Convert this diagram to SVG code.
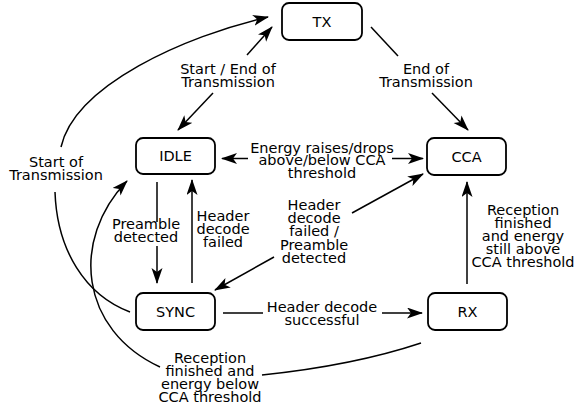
<svg xmlns="http://www.w3.org/2000/svg" width="574" height="411" viewBox="0 0 574 411">
<style>
  .node rect { fill: #ffffff; stroke: #000000; stroke-width: 1.8; }
  .node text { font-family: "DejaVu Sans", sans-serif; font-size: 14.5px; text-anchor: middle; fill: #000000; }
  .conn path, .conn line { fill: none; stroke: #000000; stroke-width: 1.5; }
  .lbl { font-family: "DejaVu Sans", sans-serif; font-size: 14.5px; text-anchor: middle; fill: #000000; }
</style>
<defs>
  <marker id="arr" markerUnits="userSpaceOnUse" markerWidth="17" markerHeight="12" refX="15" refY="5.5" orient="auto">
    <path d="M0,0 L16,5.5 L0,11 L4,5.5 z" fill="#000000"/>
  </marker>
</defs>
<rect width="574" height="411" fill="#ffffff"/>

<g id="connectors" class="conn">
  <!-- TX <-> IDLE -->
  <line x1="247" y1="55" x2="272" y2="27" marker-end="url(#arr)"/>
  <line x1="213" y1="93" x2="178" y2="130" marker-end="url(#arr)"/>
  <!-- TX -> CCA -->
  <line x1="371" y1="27" x2="398" y2="56"/>
  <line x1="432" y1="93" x2="468" y2="130" marker-end="url(#arr)"/>
  <!-- IDLE <-> CCA -->
  <line x1="248" y1="158.5" x2="222" y2="158.5" marker-end="url(#arr)"/>
  <line x1="392" y1="158.5" x2="423" y2="158.5" marker-end="url(#arr)"/>
  <!-- SYNC -> TX (Start of Transmission) -->
  <path d="M130,312 C85,295 57,250 55,192"/>
  <path d="M61,147 C75,85 185,36 268,17" marker-end="url(#arr)"/>
  <!-- IDLE -> SYNC -->
  <line x1="157" y1="182" x2="157" y2="222"/>
  <line x1="157" y1="246" x2="157" y2="283" marker-end="url(#arr)"/>
  <!-- SYNC -> IDLE -->
  <line x1="192" y1="283" x2="192" y2="180" marker-end="url(#arr)"/>
  <!-- SYNC <-> CCA -->
  <line x1="274" y1="257" x2="215" y2="290" marker-end="url(#arr)"/>
  <line x1="352" y1="213" x2="423" y2="174" marker-end="url(#arr)"/>
  <!-- RX -> CCA -->
  <line x1="467" y1="284" x2="467" y2="182" marker-end="url(#arr)"/>
  <!-- SYNC -> RX -->
  <line x1="223" y1="313" x2="263" y2="313"/>
  <line x1="382" y1="313" x2="422" y2="313" marker-end="url(#arr)"/>
  <!-- RX -> IDLE -->
  <path d="M421,343 C370,360 310,370 262,375"/>
  <path d="M160,367 C80,330 70,240 127,181" marker-end="url(#arr)"/>
</g>

<g id="labels">
  <text class="lbl"><tspan x="228" y="74">Start / End of</tspan><tspan x="228" y="87">Transmission</tspan></text>
  <text class="lbl"><tspan x="426" y="74">End of</tspan><tspan x="426" y="87">Transmission</tspan></text>
  <text class="lbl"><tspan x="322" y="152.5">Energy raises/drops</tspan><tspan x="322" y="165">above/below CCA</tspan><tspan x="322" y="177.5">threshold</tspan></text>
  <text class="lbl"><tspan x="56" y="167">Start of</tspan><tspan x="56" y="180">Transmission</tspan></text>
  <text class="lbl"><tspan x="146" y="229">Preamble</tspan><tspan x="146" y="242">detected</tspan></text>
  <text class="lbl"><tspan x="223" y="221">Header</tspan><tspan x="223" y="234">decode</tspan><tspan x="223" y="247">failed</tspan></text>
  <text class="lbl"><tspan x="314" y="210">Header</tspan><tspan x="314" y="223">decode</tspan><tspan x="314" y="236">failed /</tspan><tspan x="314" y="250">Preamble</tspan><tspan x="314" y="263">detected</tspan></text>
  <text class="lbl"><tspan x="523" y="215">Reception</tspan><tspan x="523" y="228">finished</tspan><tspan x="523" y="241">and energy</tspan><tspan x="523" y="254">still above</tspan><tspan x="523" y="267">CCA threshold</tspan></text>
  <text class="lbl"><tspan x="322" y="312">Header decode</tspan><tspan x="322" y="325">successful</tspan></text>
  <text class="lbl"><tspan x="210" y="363">Reception</tspan><tspan x="210" y="376">finished and</tspan><tspan x="210" y="389">energy below</tspan><tspan x="210" y="402">CCA threshold</tspan></text>
</g>

<g id="TX" class="node"><rect x="282" y="3" width="80" height="37" rx="7"/><text x="322" y="26.5">TX</text></g>
<g id="IDLE" class="node"><rect x="136" y="138" width="79" height="36" rx="7"/><text x="175.5" y="161">IDLE</text></g>
<g id="CCA" class="node"><rect x="427" y="138" width="79" height="37" rx="7"/><text x="466.5" y="161.5">CCA</text></g>
<g id="SYNC" class="node"><rect x="136" y="293" width="79" height="37" rx="7"/><text x="175.5" y="316.5">SYNC</text></g>
<g id="RX" class="node"><rect x="428" y="293" width="79" height="37" rx="7"/><text x="467.5" y="316.5">RX</text></g>
</svg>
